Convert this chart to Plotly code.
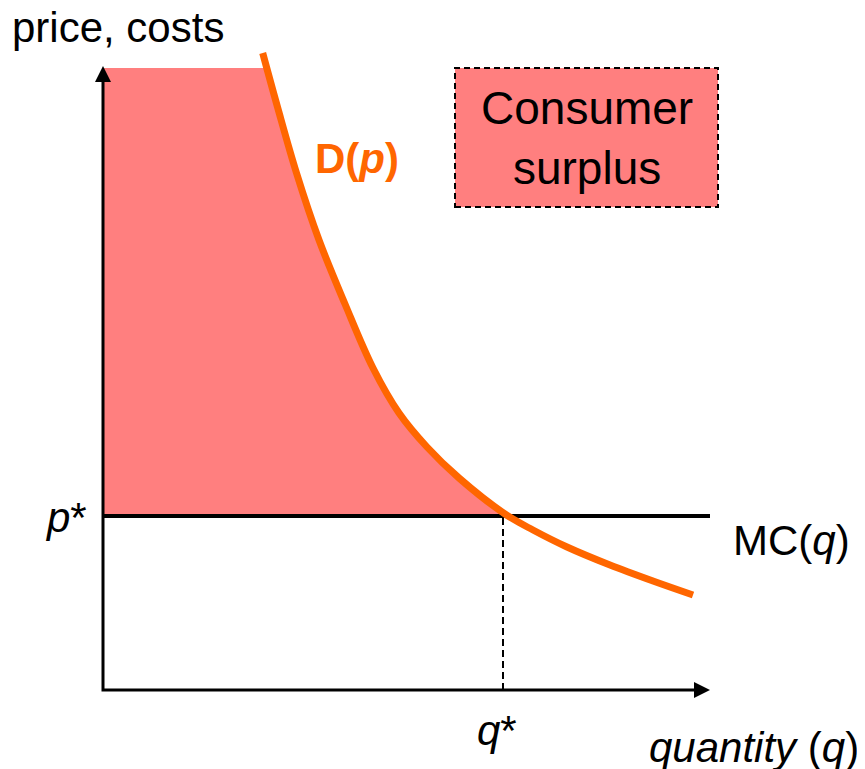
import numpy as np
import plotly.graph_objects as go

# demand curve D(p) (quantity, price)
q_demand = [15.97, 17.45, 19.35, 21.6, 24.2, 27.0, 29.6, 32.4, 35.6, 40.2, 43.0, 46.4, 50.7, 55.0, 59.0]
p_demand = [63.7, 58.3, 51.7, 45.0, 38.6, 32.2, 27.7, 24.3, 21.2, 17.6, 16.0, 14.3, 12.5, 10.9, 9.5]

# equilibrium and marginal cost
q_star = 40.0
p_star = 17.4
mc_q = [0.0, 60.7]
mc_p = [p_star, p_star]

# axis extents
q_axis_end = 60.7
p_axis_end = 62.4
p_fill_top = 62.2

FONT = "Liberation Sans, Arial, sans-serif"
PINK = "#FF7F7F"
ORANGE = "#FF6600"

# consumer surplus area: left of the demand curve, between p* and the top
q_top = float(np.interp(p_fill_top, p_demand[::-1], q_demand[::-1]))
q_cross = float(np.interp(p_star, p_demand[::-1], q_demand[::-1]))
inside = [(q, p) for q, p in zip(q_demand, p_demand) if p_star < p < p_fill_top]
fill_q = [0, 0, q_top] + [q for q, _ in inside] + [q_cross, 0]
fill_p = [p_star, p_fill_top, p_fill_top] + [p for _, p in inside] + [p_star, p_star]

fig = go.Figure()

fig.add_trace(go.Scatter(x=fill_q, y=fill_p, mode="lines", fill="toself",
                         fillcolor=PINK, line=dict(width=0), hoverinfo="skip"))

# dashed drop line at q*
fig.add_trace(go.Scatter(x=[q_star, q_star], y=[0, p_star], mode="lines",
                         line=dict(color="black", width=2, dash="7px,4px")))

# MC line
fig.add_trace(go.Scatter(x=mc_q, y=mc_p, mode="lines",
                         line=dict(color="black", width=4)))

# axes with arrow heads
fig.add_trace(go.Scatter(x=[0, 0, q_axis_end - 1.0], y=[p_axis_end - 1.0, 0, 0], mode="lines",
                         line=dict(color="black", width=3)))
fig.add_trace(go.Scatter(x=[0], y=[p_axis_end], mode="markers",
                         marker=dict(symbol="arrow-up", size=16, color="black", line=dict(width=0))))
fig.add_trace(go.Scatter(x=[q_axis_end], y=[0], mode="markers",
                         marker=dict(symbol="arrow-right", size=16, color="black", line=dict(width=0))))

# demand curve
fig.add_trace(go.Scatter(x=q_demand, y=p_demand, mode="lines",
                         line=dict(color=ORANGE, width=7, shape="spline", smoothing=1.0)))

# legend box
fig.add_shape(type="rect", x0=35.2, x1=61.5, y0=48.3, y1=62.2,
              fillcolor=PINK, line=dict(color="black", width=2, dash="6px,4px"))

labels = [
    dict(x=-9.3, y=66.3, text="price, costs", xanchor="left", size=42),
    dict(x=48.35, y=55.2, text="Consumer<br>surplus", xanchor="center", size=46),
    dict(x=21.0, y=53.2, text="<b>D(<i>p</i>)</b>", xanchor="left", size=42, color=ORANGE),
    dict(x=-1.4, y=17.3, text="<i>p</i>*", xanchor="right", size=42),
    dict(x=62.8, y=15.0, text="MC(<i>q</i>)", xanchor="left", size=42),
    dict(x=39.4, y=-4.0, text="<i>q</i>*", xanchor="center", size=42),
    dict(x=75.8, y=-5.7, text="<i>quantity</i> (<i>q</i>)", xanchor="right", size=42),
]
for lab in labels:
    fig.add_annotation(x=lab["x"], y=lab["y"], text=lab["text"], showarrow=False,
                       xanchor=lab["xanchor"], yanchor="middle",
                       font=dict(family=FONT, size=lab["size"], color=lab.get("color", "black")))

# the page body adds an 8px offset, so the ranges are shifted to line up
fig.update_layout(
    width=865,
    height=769,
    margin=dict(l=0, r=0, t=0, b=0),
    paper_bgcolor="white",
    plot_bgcolor="white",
    showlegend=False,
    xaxis=dict(range=[-9.5, 77.0], visible=False, fixedrange=True),
    yaxis=dict(range=[-8.7, 68.2], visible=False, fixedrange=True),
)

fig.write_html("out.html")
